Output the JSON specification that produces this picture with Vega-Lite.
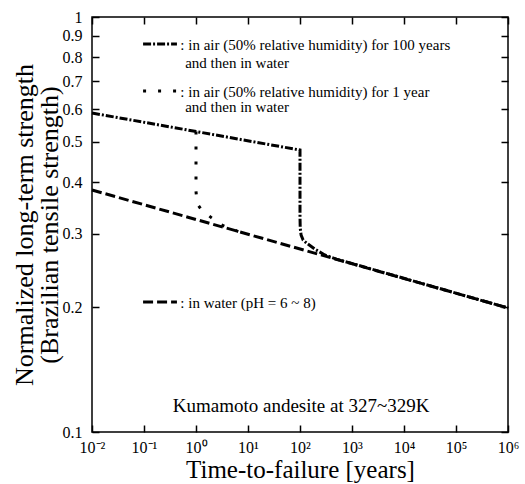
{
  "$schema": "https://vega.github.io/schema/vega-lite/v6.json",
  "width": 416,
  "height": 415,
  "autosize": "none",
  "padding": {"left": 92, "top": 17, "right": 17, "bottom": 52},
  "background": "white",
  "config": {
    "view": {"stroke": "black", "strokeWidth": 1.5},
    "font": "Liberation Serif",
    "axis": {"labelFont": "Liberation Serif", "titleFont": "Liberation Serif", "labelColor": "black", "titleColor": "black", "domain": false, "grid": false, "titleFontWeight": "normal"}
  },
  "datasets": {
    "water": [
      {"i": 0, "t": 0.01, "s": 0.383},
      {"i": 1, "t": 1000000, "s": 0.199}
    ],
    "air100": [
      {"i": 0, "t": 0.01, "s": 0.587},
      {"i": 1, "t": 100, "s": 0.478},
      {"i": 2, "t": 100, "s": 0.40},
      {"i": 3, "t": 100, "s": 0.33},
      {"i": 4, "t": 101, "s": 0.31},
      {"i": 5, "t": 105, "s": 0.298},
      {"i": 6, "t": 115, "s": 0.29},
      {"i": 7, "t": 140, "s": 0.284},
      {"i": 8, "t": 200, "s": 0.275},
      {"i": 9, "t": 300, "s": 0.267},
      {"i": 10, "t": 500, "s": 0.261},
      {"i": 11, "t": 1000000, "s": 0.199}
    ],
    "air1": [
      {"i": 0, "t": 1, "s": 0.53},
      {"i": 1, "t": 1, "s": 0.45},
      {"i": 2, "t": 1, "s": 0.38},
      {"i": 3, "t": 1.05, "s": 0.355},
      {"i": 4, "t": 1.3, "s": 0.342},
      {"i": 5, "t": 2, "s": 0.328},
      {"i": 6, "t": 3, "s": 0.316},
      {"i": 7, "t": 5, "s": 0.308},
      {"i": 8, "t": 8, "s": 0.301}
    ],
    "legendLines": [
      {"series": "air100", "x1": 0.096, "x2": 0.43, "y": 0.861},
      {"series": "air1", "x1": 0.096, "x2": 0.43, "y": 0.663},
      {"series": "water", "x1": 0.096, "x2": 0.43, "y": 0.2056}
    ],
    "labels": [
      {"x": 0.5, "y": 0.855, "text": ": in air (50% relative humidity) for 100 years"},
      {"x": 0.62, "y": 0.775, "text": "and then in water"},
      {"x": 0.5, "y": 0.66, "text": ": in air (50% relative humidity) for 1 year"},
      {"x": 0.62, "y": 0.607, "text": "and then in water"},
      {"x": 0.5, "y": 0.2045, "text": ": in water (pH = 6 ~ 8)"}
    ],
    "note": [
      {"x": 105, "y": 0.1155, "text": "Kumamoto andesite at 327~329K"}
    ]
  },
  "resolve": {"axis": {"x": "independent", "y": "independent"}},
  "layer": [
    {
      "data": {"name": "water"},
      "mark": {"type": "line", "strokeWidth": 3, "color": "black", "strokeCap": "butt", "strokeDash": [10, 4]},
      "encoding": {
        "x": {"field": "t", "type": "quantitative",
          "scale": {"type": "log", "domain": [0.01, 1000000], "nice": false},
          "axis": {"orient": "bottom", "values": [0.01, 0.1, 1, 10, 100, 1000, 10000, 100000, 1000000],
            "labelExpr": "['10⁻²','10⁻¹','10⁰','10¹','10²','10³','10⁴','10⁵','10⁶'][round(log(datum.value)/LN10)+2]",
            "tickSize": -7, "tickColor": "black", "tickWidth": 1.5,
            "labelPadding": 14, "labelFontSize": 16, "labelFlush": false,
            "title": "Time-to-failure [years]", "titleFontSize": 25, "titlePadding": 2}},
        "y": {"field": "s", "type": "quantitative",
          "scale": {"type": "log", "domain": [0.1, 1], "nice": false},
          "axis": {"orient": "left", "values": [0.1, 0.2, 0.3, 0.4, 0.5, 0.6, 0.7, 0.8, 0.9, 1],
            "labelExpr": "format(datum.value, '.1~f')",
            "tickSize": -7, "tickColor": "black", "tickWidth": 1.5,
            "labelPadding": 17, "labelFontSize": 16,
            "title": ["Normalized long-term strength", "(Brazilian tensile strength)"], "titleFontSize": 26, "titlePadding": 0, "titleLineHeight": 25}},
        "order": {"field": "i", "type": "quantitative"}
      }
    },
    {
      "data": {"name": "air100"},
      "mark": {"type": "line", "strokeWidth": 3, "color": "black", "strokeCap": "butt", "strokeDash": [8, 2, 2, 2]},
      "encoding": {
        "x": {"field": "t", "type": "quantitative",
          "axis": {"orient": "top", "values": [0.01, 0.1, 1, 10, 100, 1000, 10000, 100000, 1000000], "labels": false, "title": null,
            "tickSize": -7, "tickColor": "black", "tickWidth": 1.5}},
        "y": {"field": "s", "type": "quantitative",
          "axis": {"orient": "right", "values": [0.1, 0.2, 0.3, 0.4, 0.5, 0.6, 0.7, 0.8, 0.9, 1], "labels": false, "title": null,
            "tickSize": -7, "tickColor": "black", "tickWidth": 1.5}},
        "order": {"field": "i", "type": "quantitative"}
      }
    },
    {
      "data": {"name": "air1"},
      "mark": {"type": "line", "strokeWidth": 3, "color": "black", "strokeCap": "butt", "strokeDash": [3, 12]},
      "encoding": {
        "x": {"field": "t", "type": "quantitative", "axis": null},
        "y": {"field": "s", "type": "quantitative", "axis": null},
        "order": {"field": "i", "type": "quantitative"}
      }
    },
    {
      "data": {"name": "legendLines"},
      "transform": [{"filter": "datum.series == 'water'"}],
      "mark": {"type": "rule", "strokeWidth": 3, "color": "black", "strokeCap": "butt", "strokeDash": [10, 4]},
      "encoding": {
        "x": {"field": "x1", "type": "quantitative", "axis": null},
        "x2": {"field": "x2"},
        "y": {"field": "y", "type": "quantitative", "axis": null}
      }
    },
    {
      "data": {"name": "legendLines"},
      "transform": [{"filter": "datum.series == 'air100'"}],
      "mark": {"type": "rule", "strokeWidth": 3, "color": "black", "strokeCap": "butt", "strokeDash": [8, 2, 2, 2]},
      "encoding": {
        "x": {"field": "x1", "type": "quantitative", "axis": null},
        "x2": {"field": "x2"},
        "y": {"field": "y", "type": "quantitative", "axis": null}
      }
    },
    {
      "data": {"name": "legendLines"},
      "transform": [{"filter": "datum.series == 'air1'"}],
      "mark": {"type": "rule", "strokeWidth": 3, "color": "black", "strokeCap": "butt", "strokeDash": [3, 12]},
      "encoding": {
        "x": {"field": "x1", "type": "quantitative", "axis": null},
        "x2": {"field": "x2"},
        "y": {"field": "y", "type": "quantitative", "axis": null}
      }
    },
    {
      "data": {"name": "labels"},
      "mark": {"type": "text", "align": "left", "baseline": "middle", "fontSize": 15, "font": "Liberation Serif", "color": "black"},
      "encoding": {
        "x": {"field": "x", "type": "quantitative", "axis": null},
        "y": {"field": "y", "type": "quantitative", "axis": null},
        "text": {"field": "text"}
      }
    },
    {
      "data": {"name": "note"},
      "mark": {"type": "text", "align": "center", "baseline": "middle", "fontSize": 19, "font": "Liberation Serif", "color": "black"},
      "encoding": {
        "x": {"field": "x", "type": "quantitative", "axis": null},
        "y": {"field": "y", "type": "quantitative", "axis": null},
        "text": {"field": "text"}
      }
    }
  ]
}
